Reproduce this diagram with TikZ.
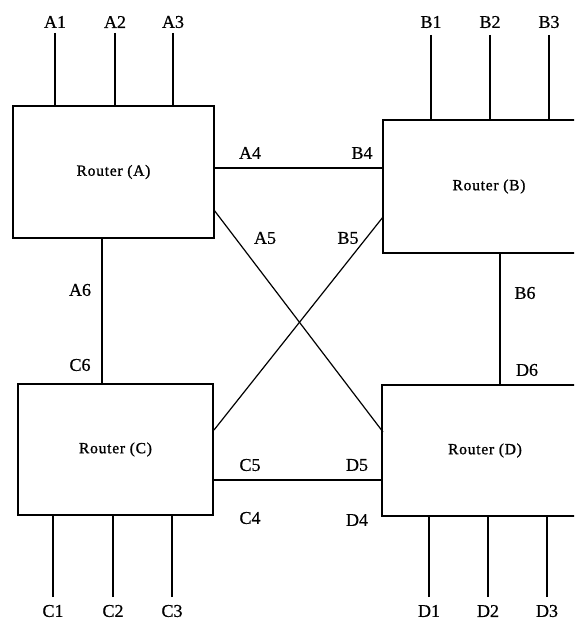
\documentclass[tikz,border=0pt]{standalone}
\usepackage{fontspec}
\setmainfont{Liberation Serif}
\newfontfamily\routerfont[FakeBold=1.2,LetterSpace=5]{Liberation Serif}
\newfontfamily\lblfont[FakeBold=0.6]{Liberation Serif}
\begin{document}
\begin{tikzpicture}[x=1pt,y=-1pt,
  router/.style={draw,line width=1.2pt,rectangle,inner sep=0pt,font=\routerfont\fontsize{15.5}{17}\selectfont},
  lbl/.style={inner sep=0pt,font=\lblfont\fontsize{18}{20}\selectfont},
  link/.style={line width=1.2pt}]
\useasboundingbox (0,0) rectangle (574,623);
\begin{scope}
\clip (0,0) rectangle (574,623);
\node[router,minimum width=201pt,minimum height=132pt] (A) at (113.5,172) {Router (A)};
\node[router,minimum width=212pt,minimum height=133pt] (B) at (489,186.5) {Router (B)};
\node[router,minimum width=195pt,minimum height=131pt] (C) at (115.5,449.5) {Router (C)};
\node[router,minimum width=206pt,minimum height=131pt] (D) at (485,450.5) {Router (D)};
\end{scope}
% labels
\node[lbl] (lA1) at (55,22) {A1};
\node[lbl] (lA2) at (115,22) {A2};
\node[lbl] (lA3) at (173,22) {A3};
\node[lbl] (lB1) at (431,22) {B1};
\node[lbl] (lB2) at (490,22) {B2};
\node[lbl] (lB3) at (549,22) {B3};
\node[lbl] (lA4) at (250,153) {A4};
\node[lbl] (lB4) at (362,153) {B4};
\node[lbl] (lA5) at (265,238) {A5};
\node[lbl] (lB5) at (348,238) {B5};
\node[lbl] (lA6) at (80,290) {A6};
\node[lbl] (lC6) at (80,365) {C6};
\node[lbl] (lB6) at (525,293) {B6};
\node[lbl] (lD6) at (527,370) {D6};
\node[lbl] (lC5) at (250,465) {C5};
\node[lbl] (lD5) at (357,465) {D5};
\node[lbl] (lC4) at (250,518) {C4};
\node[lbl] (lD4) at (357,520) {D4};
\node[lbl] (lC1) at (53,611) {C1};
\node[lbl] (lC2) at (113,611) {C2};
\node[lbl] (lC3) at (172,611) {C3};
\node[lbl] (lD1) at (429,611) {D1};
\node[lbl] (lD2) at (488,611) {D2};
\node[lbl] (lD3) at (547,611) {D3};
% port ends
\coordinate (tA1) at (55,33);  \coordinate (tA2) at (115,33);  \coordinate (tA3) at (173,33);
\coordinate (tB1) at (431,35); \coordinate (tB2) at (490,35);  \coordinate (tB3) at (549,35);
\coordinate (tC1) at (53,597); \coordinate (tC2) at (113,597); \coordinate (tC3) at (172,597);
\coordinate (tD1) at (429,597);\coordinate (tD2) at (488,597); \coordinate (tD3) at (547,597);
\coordinate (pA4) at (214,168); \coordinate (pB4) at (383,168);
\coordinate (pA5) at (214,210); \coordinate (pD5x) at (383,432);
\coordinate (pB5) at (383,217); \coordinate (pC5x) at (214,430);
\coordinate (pC5) at (214,480); \coordinate (pD5) at (383,480);
\foreach \p in {A1,A2,A3} \draw[link] (t\p) -- (t\p |- A.north);
\foreach \p in {B1,B2,B3} \draw[link] (t\p) -- (t\p |- B.north);
\foreach \p in {C1,C2,C3} \draw[link] (t\p) -- (t\p |- C.south);
\foreach \p in {D1,D2,D3} \draw[link] (t\p) -- (t\p |- D.south);
\draw[link] (pA4) -- (pB4);
\draw[link] (pA5) -- (pD5x);
\draw[link] (pB5) -- (pC5x);
\draw[link] (pC5) -- (pD5);
\draw[link] (A.south -| 102,0) -- (C.north -| 102,0);
\draw[link] (B.south -| 500,0) -- (D.north -| 500,0);
\end{tikzpicture}
\end{document}
